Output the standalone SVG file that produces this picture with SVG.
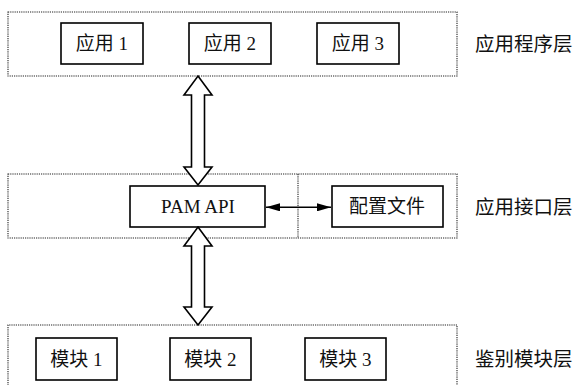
<svg xmlns="http://www.w3.org/2000/svg" width="574" height="385" viewBox="0 0 574 385">
<style>
.layer{fill:none;stroke:#222;stroke-width:1.1;stroke-dasharray:1.2 1}
.box{fill:#fff;stroke:#000;stroke-width:1.6}
.t{font-family:"Liberation Serif","Noto Sans CJK SC",serif;font-size:19px;fill:#111;text-anchor:middle;dominant-baseline:central}
.lbl{font-family:"Liberation Serif","Noto Sans CJK SC",serif;font-size:19.5px;fill:#111;dominant-baseline:central}
.big{fill:#fff;stroke:#000;stroke-width:1.6;stroke-linejoin:miter}
.line{stroke:#000;stroke-width:1.6;fill:none}
</style>
<defs>
<marker id="ah" viewBox="0 0 14 8" refX="14" refY="4" markerWidth="14" markerHeight="8" markerUnits="userSpaceOnUse" orient="auto-start-reverse">
<path d="M0,0 L14,4 L0,8 Z" fill="#000"/>
</marker>
</defs>
<g id="layers">
<rect class="layer" x="8" y="12" width="449" height="64"/>
<rect class="layer" x="8" y="174" width="449" height="64"/>
<line class="layer" x1="298" y1="174" x2="298" y2="238"/>
<path class="layer" d="M8,392 L8,325 L457,325 L457,392"/>
</g>
<g id="app1"><rect class="box" x="61" y="23" width="82" height="41"/><text class="t" x="102" y="43.5">应用 1</text></g>
<g id="app2"><rect class="box" x="189" y="23" width="82" height="41"/><text class="t" x="230" y="43.5">应用 2</text></g>
<g id="app3"><rect class="box" x="317" y="23" width="82" height="41"/><text class="t" x="358" y="43.5">应用 3</text></g>
<g id="pam"><rect class="box" x="130" y="186" width="135" height="41"/><text class="t" x="198" y="206.5">PAM API</text></g>
<g id="conf"><rect class="box" x="332" y="186" width="111" height="41"/><text class="t" x="387" y="206.5">配置文件</text></g>
<g id="mod1"><rect class="box" x="36" y="338" width="81" height="42"/><text class="t" x="76.5" y="359">模块 1</text></g>
<g id="mod2"><rect class="box" x="170" y="338" width="81" height="42"/><text class="t" x="210.5" y="359">模块 2</text></g>
<g id="mod3"><rect class="box" x="305" y="338" width="81" height="42"/><text class="t" x="345.5" y="359">模块 3</text></g>
<g id="labels">
<text class="lbl" x="475" y="44">应用程序层</text>
<text class="lbl" x="475" y="207">应用接口层</text>
<text class="lbl" x="475" y="359">鉴别模块层</text>
</g>
<g id="connectors">
<polygon class="big" points="198,76 212,95 204.5,95 204.5,167 212,167 198,185 184,167 191.5,167 191.5,95 184,95"/>
<polygon class="big" points="198,227 212,246 204.5,246 204.5,307 212,307 198,325 184,307 191.5,307 191.5,246 184,246"/>
<line class="line" x1="266" y1="207.3" x2="331" y2="207.3" marker-start="url(#ah)" marker-end="url(#ah)"/>
</g>
</svg>
